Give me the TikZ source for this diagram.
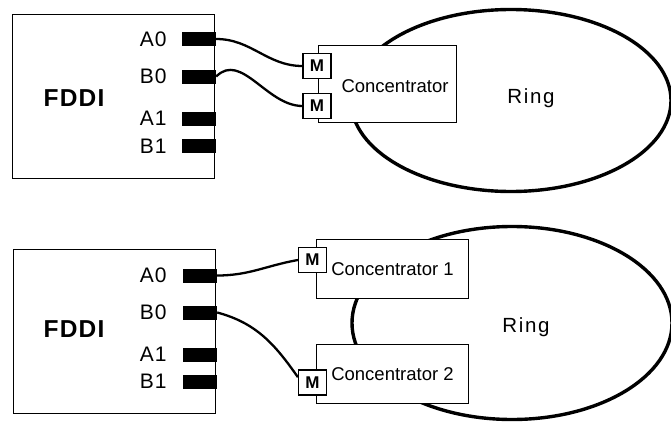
\documentclass[tikz,border=0pt]{standalone}
\usepackage{fontspec}
\setmainfont{Liberation Sans}
\newfontfamily\wideA[LetterSpace=5]{Liberation Sans}
\newfontfamily\wideB[LetterSpace=8]{Liberation Sans}
\usetikzlibrary{shapes.geometric,positioning}
\begin{document}
\begin{tikzpicture}[
    x=1pt,y=-1pt,
    card/.style={draw,line width=1.2pt,minimum width=202pt,minimum height=164pt,inner sep=0pt},
    cardlbl/.style={inner sep=0pt,font=\wideA\fontsize{24.5}{24}\selectfont\bfseries},
    port/.style={fill=black,minimum width=34pt,minimum height=14pt,inner sep=0pt},
    plbl/.style={inner sep=0pt,font=\wideA\fontsize{21}{21}\selectfont},
    ring/.style={draw,ellipse,line width=3.4pt,minimum width=320pt,inner sep=0pt},
    ringlbl/.style={inner sep=0pt,font=\wideB\fontsize{20.5}{20}\selectfont},
    conc/.style={draw,fill=white,line width=1.2pt,inner sep=0pt,font=\fontsize{18.5}{18}\selectfont},
    mac/.style={draw,fill=white,line width=1.2pt,minimum width=28pt,minimum height=25pt,inner sep=0pt,font=\fontsize{17}{17}\selectfont\bfseries},
    wire/.style={line width=2.3pt}
]
\useasboundingbox (0,0) rectangle (671,423);
% upper: both ports to one concentrator
\node[ring,minimum height=182pt] (ringA) at (511,100.5) {};
\node[ringlbl] (ringAtxt) at (531,98) {Ring};
\node[conc,minimum width=138pt,minimum height=77pt] (concA) at (387.5,84) {};
\node[inner sep=0pt,font=\fontsize{18.5}{18}\selectfont] (concAtxt) at (395,86) {Concentrator};
\node[mac] (mA1) at (317,66) {M};
\node[mac] (mA2) at (317,106) {M};
\node[card] (fddiA) at (113.5,96.5) {};
\node[cardlbl] (fddiAtxt) at (74,98.5) {FDDI};
\node[port] (pA0a) at (199,39) {};
\node[port] (pB0a) at (199,76.5) {};
\node[port] (pA1a) at (199,118.5) {};
\node[port] (pB1a) at (199,146) {};
\node[plbl,left=15pt of pA0a] {A0};
\node[plbl,left=15pt of pB0a] {B0};
\node[plbl,left=15pt of pA1a] {A1};
\node[plbl,left=15pt of pB1a] {B1};
\draw[wire] (pA0a.east) to[out=0,in=180] (mA1.west);
\draw[wire] (pB0a.east) to[out=45,in=180] (mA2.west);
% lower: one port to each concentrator
\node[ring,minimum height=193pt] (ringB) at (512,323) {};
\node[ringlbl] (ringBtxt) at (526,327.5) {Ring};
\node[conc,minimum width=152pt,minimum height=59pt] (concB1) at (392.5,269) {Concentrator 1};
\node[conc,minimum width=152pt,minimum height=59pt] (concB2) at (392.5,374) {Concentrator 2};
\node[mac] (mB1) at (312.5,260) {M};
\node[mac] (mB2) at (312.5,382.5) {M};
\node[card] (fddiB) at (114.5,331.5) {};
\node[cardlbl] (fddiBtxt) at (74,329.5) {FDDI};
\node[port] (pA0b) at (200,275.5) {};
\node[port] (pB0b) at (200,312.5) {};
\node[port] (pA1b) at (200,354.5) {};
\node[port] (pB1b) at (200,381.5) {};
\node[plbl,left=16pt of pA0b] {A0};
\node[plbl,left=16pt of pB0b] {B0};
\node[plbl,left=16pt of pA1b] {A1};
\node[plbl,left=16pt of pB1b] {B1};
\draw[wire] (pA0b.east) to[out=0,in=190] (mB1.west);
\draw[wire] (pB0b.east) to[out=-15,in=125] (mB2.160);
\end{tikzpicture}
\end{document}
